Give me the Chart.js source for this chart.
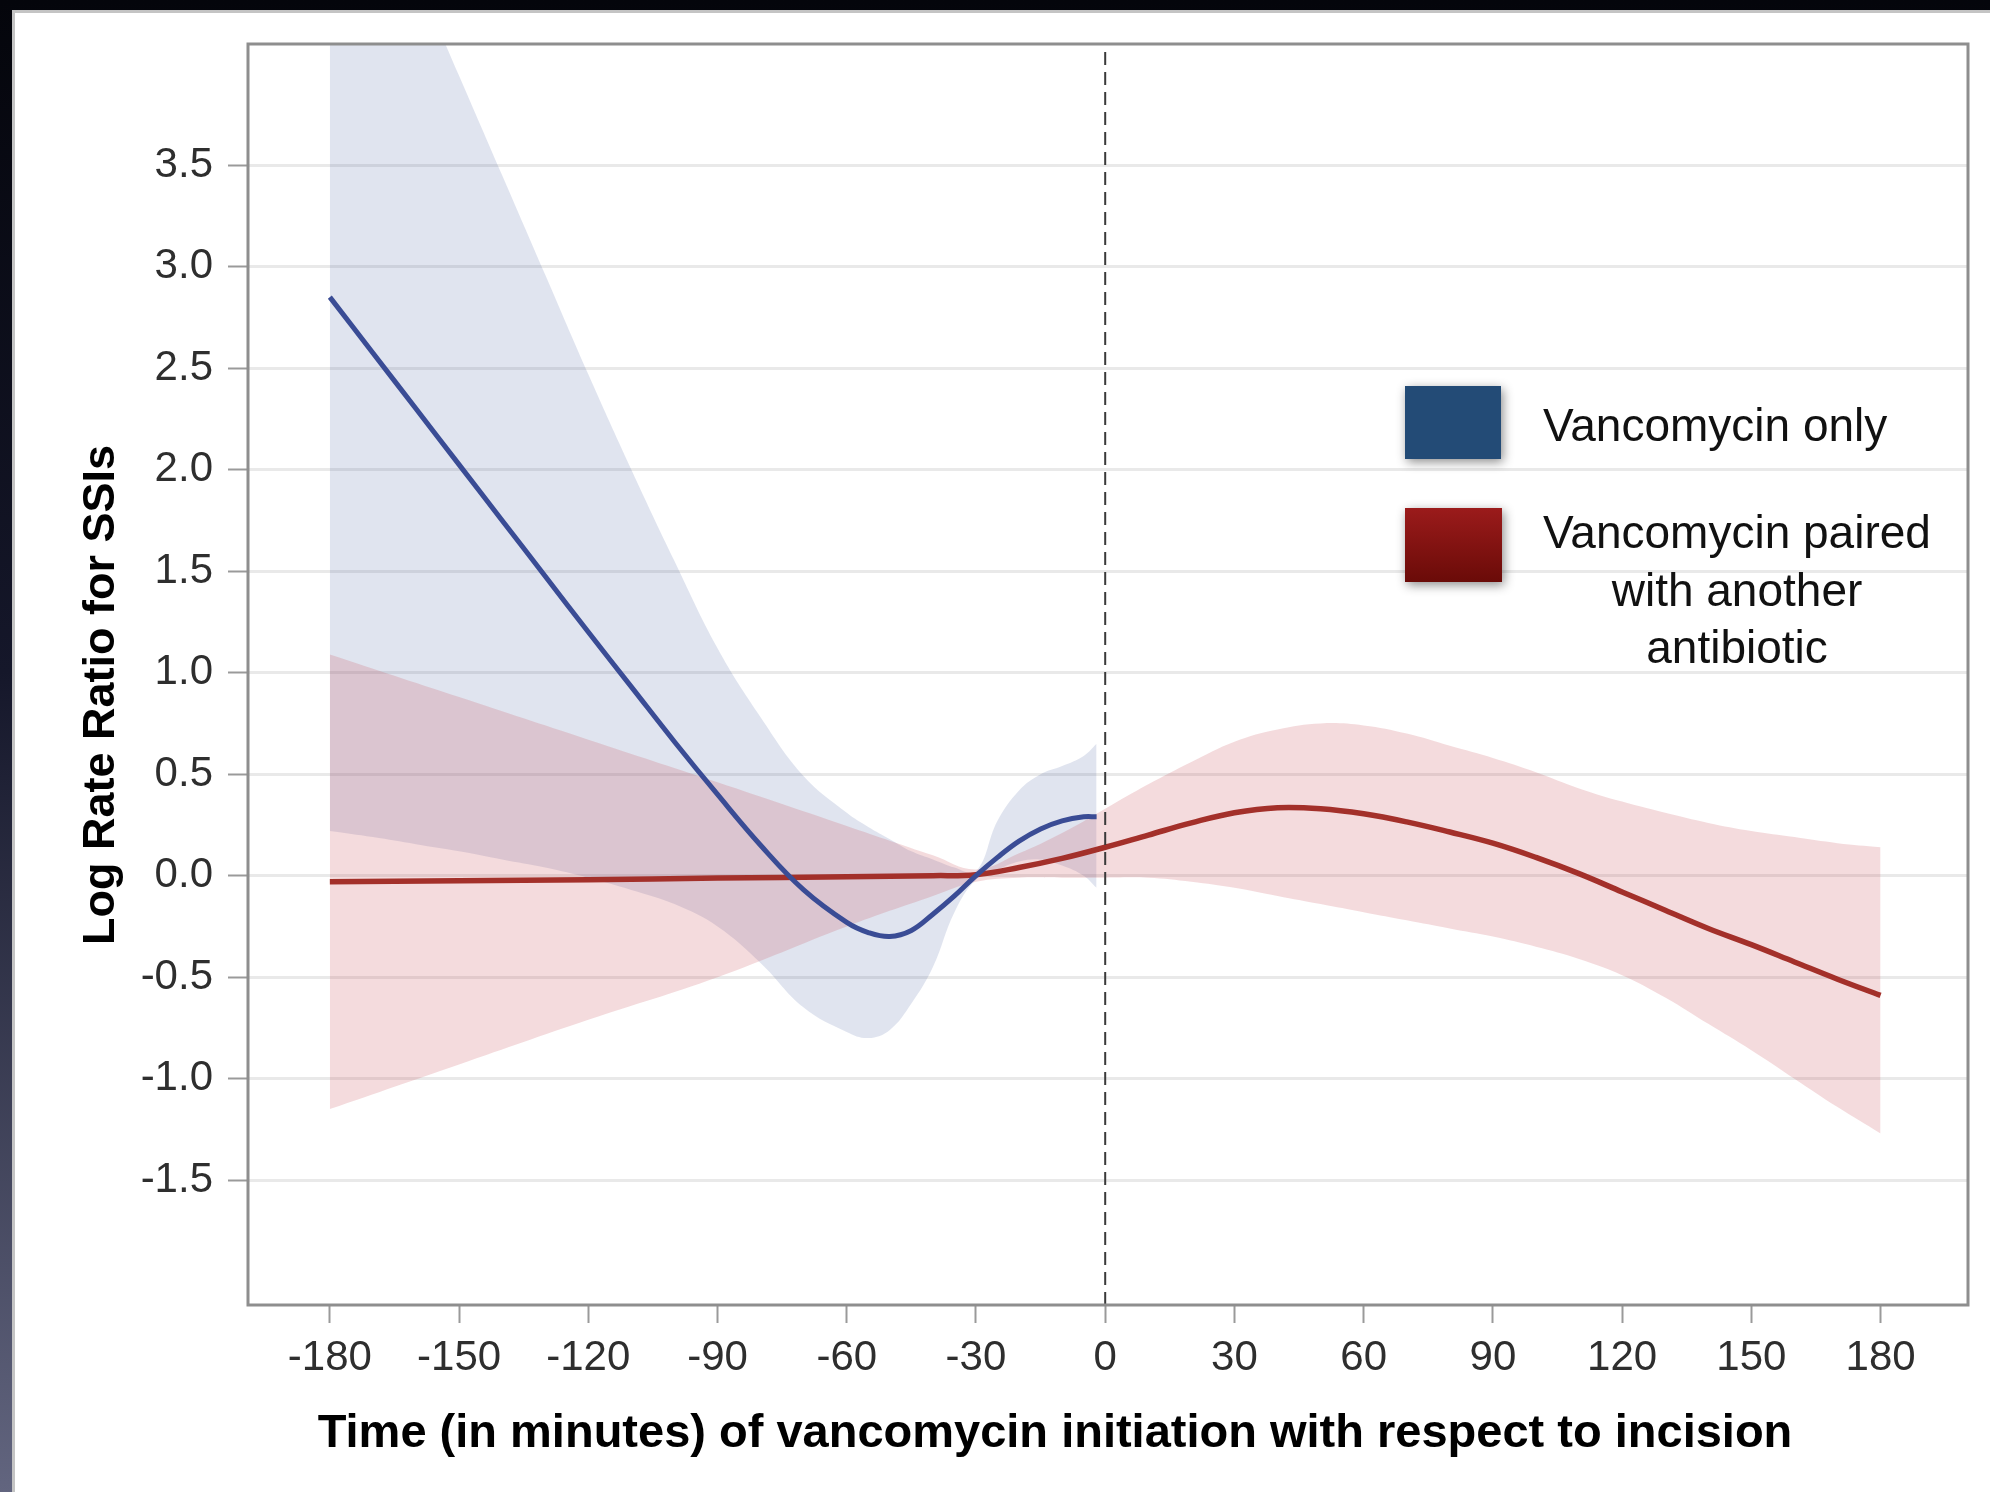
<!DOCTYPE html>
<html>
<head>
<meta charset="utf-8">
<title>Log Rate Ratio for SSIs</title>
<script src="https://cdn.jsdelivr.net/npm/chart.js@4.4.1/dist/chart.umd.min.js"></script>
<style>
  html, body { margin: 0; padding: 0; background: #05060c; overflow: hidden; }
  canvas { display: block; }
</style>
</head>
<body>
<canvas id="ssiChart" width="1990" height="1492"></canvas>
<script>
// Axis ticks
const xTicks = [-180, -150, -120, -90, -60, -30, 0, 30, 60, 90, 120, 150, 180];
const yTicks = [-1.5, -1.0, -0.5, 0.0, 0.5, 1.0, 1.5, 2.0, 2.5, 3.0, 3.5];

// Vancomycin only (estimate + 95% band)
const blueX = [-180, -170, -160, -150, -140, -130, -120, -110, -100, -90, -80, -70, -60, -55, -50, -45, -40, -35, -30, -25, -20, -15, -10, -5, -2];
const blueMid = [2.85, 2.575, 2.30, 2.025, 1.75, 1.475, 1.20, 0.93, 0.66, 0.40, 0.15, -0.07, -0.23, -0.28, -0.30, -0.27, -0.19, -0.10, 0.00, 0.09, 0.17, 0.23, 0.27, 0.29, 0.29];
const blueUpper = [5.40, 4.92, 4.43, 3.94, 3.45, 2.96, 2.47, 2.00, 1.55, 1.12, 0.78, 0.49, 0.31, 0.24, 0.18, 0.12, 0.08, 0.04, 0.02, 0.27, 0.42, 0.50, 0.54, 0.59, 0.65];
const blueLower = [0.22, 0.19, 0.155, 0.12, 0.08, 0.04, -0.01, -0.07, -0.14, -0.25, -0.43, -0.65, -0.77, -0.80, -0.76, -0.63, -0.45, -0.18, -0.02, 0.03, 0.07, 0.08, 0.05, 0.00, -0.06];

// Vancomycin paired with another antibiotic
const redX = [-180, -150, -120, -90, -60, -40, -30, -20, -10, 0, 10, 20, 30, 40, 50, 60, 70, 80, 90, 100, 110, 120, 130, 140, 150, 160, 170, 180];
const redMid = [-0.03, -0.025, -0.02, -0.012, -0.005, 0.0, 0.005, 0.04, 0.085, 0.14, 0.20, 0.26, 0.31, 0.335, 0.33, 0.305, 0.265, 0.215, 0.16, 0.09, 0.01, -0.08, -0.17, -0.26, -0.34, -0.425, -0.51, -0.59];
const redUpper = [1.09, 0.88, 0.67, 0.46, 0.245, 0.10, 0.03, 0.11, 0.21, 0.33, 0.45, 0.56, 0.66, 0.72, 0.75, 0.74, 0.70, 0.64, 0.58, 0.51, 0.43, 0.365, 0.31, 0.26, 0.22, 0.19, 0.16, 0.14];
const redLower = [-1.15, -0.93, -0.71, -0.50, -0.25, -0.10, -0.03, -0.01, -0.01, -0.01, -0.01, -0.03, -0.06, -0.10, -0.14, -0.18, -0.22, -0.26, -0.30, -0.35, -0.41, -0.49, -0.60, -0.73, -0.86, -1.00, -1.14, -1.27];

// Incision reference line
const refX = [0, 0];

const legendLabels = ['Vancomycin only', ['Vancomycin paired', 'with another', 'antibiotic']];
const xTitle = 'Time (in minutes) of vancomycin initiation with respect to incision';
const yTitle = 'Log Rate Ratio for SSIs';

const X_MIN = -199, X_MAX = 200.3;
const Y_MIN = -2.115, Y_MAX = 4.097;

const BLUE = '#3a4c95';
const RED = '#a3302a';
const FONT = '"Liberation Sans", Arial, sans-serif';

const pts = (xs, ys) => xs.map((x, i) => ({ x, y: ys[i] }));

// Slide background + white panel
const backdrop = {
  id: 'backdrop',
  beforeDraw(chart) {
    const { ctx, width, height } = chart;
    ctx.save();
    const g = ctx.createLinearGradient(0, 0, 0, height);
    g.addColorStop(0, '#04050b');
    g.addColorStop(0.45, '#15172a');
    g.addColorStop(1, '#62657f');
    ctx.fillStyle = g;
    ctx.fillRect(0, 0, width, height);
    ctx.fillStyle = '#c4c4c4';
    ctx.fillRect(12, 10, width - 12, height - 10);
    ctx.fillStyle = '#ffffff';
    ctx.fillRect(15, 13, width - 15, height - 13);
    ctx.restore();
  }
};

// Box around the plot area
const frame = {
  id: 'frame',
  afterDatasetsDraw(chart) {
    const { ctx, chartArea: a } = chart;
    ctx.save();
    ctx.strokeStyle = '#8e8e8e';
    ctx.lineWidth = 3;
    ctx.strokeRect(a.left, a.top, a.right - a.left, a.bottom - a.top);
    ctx.restore();
  }
};

// Axis titles and the slide legend
const annotations = {
  id: 'annotations',
  afterDraw(chart) {
    const { ctx } = chart;
    ctx.save();
    ctx.fillStyle = '#000';
    ctx.font = `bold 47px ${FONT}`;
    ctx.textAlign = 'center';
    ctx.textBaseline = 'alphabetic';
    ctx.fillText(xTitle, 1055, 1447);

    ctx.save();
    ctx.translate(114, 695);
    ctx.rotate(-Math.PI / 2);
    ctx.font = `bold 45px ${FONT}`;
    ctx.fillText(yTitle, 0, 0);
    ctx.restore();

    // legend swatches
    ctx.save();
    ctx.shadowColor = 'rgba(0,0,0,0.45)';
    ctx.shadowBlur = 10;
    ctx.shadowOffsetX = 2;
    ctx.shadowOffsetY = 3;
    ctx.fillStyle = '#234b76';
    ctx.fillRect(1405, 386, 96, 73);
    const rg = ctx.createLinearGradient(0, 508, 0, 582);
    rg.addColorStop(0, '#9b1b1b');
    rg.addColorStop(1, '#6a0b08');
    ctx.fillStyle = rg;
    ctx.fillRect(1405, 508, 97, 74);
    ctx.restore();

    ctx.fillStyle = '#111';
    ctx.font = `46px ${FONT}`;
    ctx.textAlign = 'left';
    ctx.fillText(legendLabels[0], 1543, 441);
    ctx.textAlign = 'center';
    legendLabels[1].forEach((line, i) => ctx.fillText(line, 1737, 548 + i * 57.5));
    ctx.restore();
  }
};

const ctx = document.getElementById('ssiChart').getContext('2d');

new Chart(ctx, {
  type: 'line',
  data: {
    datasets: [
      { // 0
        label: 'blue lower', data: pts(blueX, blueLower),
        borderWidth: 0, borderColor: 'transparent', fill: false, order: 3
      },
      { // 1
        label: 'blue upper', data: pts(blueX, blueUpper),
        borderWidth: 0, borderColor: 'transparent',
        backgroundColor: 'rgba(45, 75, 145, 0.15)', fill: { target: 0 }, order: 3
      },
      { // 2
        label: 'red lower', data: pts(redX, redLower),
        borderWidth: 0, borderColor: 'transparent', fill: false, order: 2
      },
      { // 3
        label: 'red upper', data: pts(redX, redUpper),
        borderWidth: 0, borderColor: 'transparent',
        backgroundColor: 'rgba(200, 75, 85, 0.2)', fill: { target: 2 }, order: 2
      },
      {
        label: 'Vancomycin only', data: pts(blueX, blueMid),
        borderColor: BLUE, borderWidth: 5, fill: false, order: 1
      },
      {
        label: 'Vancomycin paired with another antibiotic', data: pts(redX, redMid),
        borderColor: RED, borderWidth: 5.5, fill: false, order: 1
      },
      {
        label: 'incision', data: pts(refX, [Y_MIN, Y_MAX]),
        borderColor: '#3a3a3a', borderWidth: 2, borderDash: [13, 7],
        fill: false, order: 0, tension: 0
      }
    ]
  },
  options: {
    responsive: false,
    animation: false,
    layout: { padding: { top: 44, right: 22, left: 0, bottom: 0 } },
    elements: {
      point: { radius: 0, hoverRadius: 0 },
      line: { tension: 0.4, capBezierPoints: true, borderCapStyle: 'butt' }
    },
    plugins: {
      legend: { display: false },
      tooltip: { enabled: false }
    },
    scales: {
      x: {
        type: 'linear',
        min: X_MIN,
        max: X_MAX,
        afterBuildTicks: (s) => { s.ticks = xTicks.map(v => ({ value: v })); },
        afterFit: (s) => { s.height = 187; },
        border: { display: false },
        grid: {
          drawOnChartArea: false,
          drawTicks: true,
          tickLength: 18,
          tickColor: '#9a9a9a',
          tickWidth: 2
        },
        ticks: {
          padding: 10,
          maxRotation: 0,
          color: '#2e2e2e',
          font: { family: FONT, size: 42 },
          callback: (v) => String(v)
        }
      },
      y: {
        type: 'linear',
        min: Y_MIN,
        max: Y_MAX,
        afterBuildTicks: (s) => { s.ticks = yTicks.map(v => ({ value: v })); },
        afterFit: (s) => { s.width = 248; },
        border: { display: false },
        grid: {
          color: '#e9e9e9',
          lineWidth: 3,
          drawTicks: true,
          tickLength: 20,
          tickColor: '#9a9a9a',
          tickWidth: 2
        },
        ticks: {
          padding: 15,
          color: '#2e2e2e',
          font: { family: FONT, size: 42 },
          callback: (v) => Number(v).toFixed(1)
        }
      }
    }
  },
  plugins: [backdrop, frame, annotations]
});
</script>
</body>
</html>
